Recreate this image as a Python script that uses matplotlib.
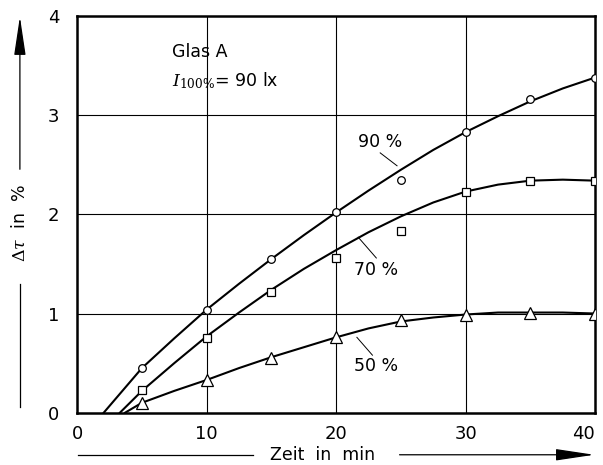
import numpy as np
from matplotlib import pyplot as plt

plt.rc('font', family='DejaVu Sans', size=12)
plt.rcParams['mathtext.fontset'] = 'dejavuserif'

# measured points
t_pts = [5, 10, 15, 20, 25, 30, 35, 40]
g90_pts = [0.45, 1.04, 1.55, 2.02, 2.35, 2.83, 3.16, 3.38]
g70_pts = [0.23, 0.75, 1.22, 1.56, 1.83, 2.23, 2.34, 2.34]
g50_pts = [0.10, 0.33, 0.55, 0.76, 0.93, 0.99, 1.01, 1.00]

# hand-drawn curves
t90_curve = [2.05, 5, 7.5, 10, 12.5, 15, 17.5, 20, 22.5, 25, 27.5, 30, 32.5, 35, 37.5, 40]
g90_curve = [0.0, 0.45, 0.75, 1.04, 1.30, 1.55, 1.79, 2.02, 2.24, 2.45, 2.65, 2.83, 2.99, 3.14, 3.27, 3.38]
t70_curve = [3.3, 5, 7.5, 10, 12.5, 15, 17.5, 20, 22.5, 25, 27.5, 30, 32.5, 35, 37.5, 40]
g70_curve = [0.0, 0.22, 0.50, 0.77, 1.01, 1.24, 1.45, 1.64, 1.82, 1.98, 2.12, 2.23, 2.30, 2.34, 2.35, 2.34]
t50_curve = [3.7, 5, 7.5, 10, 12.5, 15, 17.5, 20, 22.5, 25, 27.5, 30, 32.5, 35, 37.5, 40]
g50_curve = [0.0, 0.10, 0.22, 0.33, 0.45, 0.56, 0.66, 0.76, 0.85, 0.92, 0.96, 0.99, 1.01, 1.01, 1.01, 1.00]

x_ticks = [0, 10, 20, 30, 40]
y_ticks = [0, 1, 2, 3, 4]

fig = plt.figure(figsize=(6.03, 4.65), dpi=100)
ax = fig.add_axes([0.128, 0.1125, 0.859, 0.853])

for v in x_ticks[1:-1]:
    ax.axvline(v, color='black', lw=0.8, zorder=1)
for v in y_ticks[1:-1]:
    ax.axhline(v, color='black', lw=0.8, zorder=1)

ax.plot(t90_curve, g90_curve, color='black', lw=1.5, zorder=2)
ax.plot(t70_curve, g70_curve, color='black', lw=1.5, zorder=2)
ax.plot(t50_curve, g50_curve, color='black', lw=1.5, zorder=2)

ax.plot(t_pts, g90_pts, 'o', ms=5.5, mfc='white', mec='black', mew=0.9, zorder=3)
ax.plot(t_pts, g70_pts, 's', ms=5.5, mfc='white', mec='black', mew=0.9, zorder=3)
ax.plot(t_pts, g50_pts, '^', ms=8, mfc='white', mec='black', mew=0.9, zorder=3)

ax.set_xlim(0, 40)
ax.set_ylim(0, 4)
ax.set_xticks(x_ticks)
ax.set_yticks(y_ticks)
ax.tick_params(length=0, labelsize=13)
ax.tick_params(axis='x', pad=9)
ax.tick_params(axis='y', pad=13)
# last x label sits at the right edge, nudge it inward a little
ax.get_xticklabels()[-1].set_horizontalalignment('right')
ax.get_xticklabels()[-1].set_x(40.5)
for s in ax.spines.values():
    s.set_linewidth(1.8)

# curve labels with leader lines
ax.text(23.4, 2.64, '90 %', ha='center', va='bottom', fontsize=12.5)
ax.plot([23.4, 24.7], [2.62, 2.49], color='black', lw=0.7)
ax.text(23.1, 1.44, '70 %', ha='center', va='center', fontsize=12.5)
ax.plot([23.1, 21.7], [1.56, 1.77], color='black', lw=0.7)
ax.text(23.1, 0.47, '50 %', ha='center', va='center', fontsize=12.5)
ax.plot([22.8, 21.6], [0.58, 0.76], color='black', lw=0.7)

ax.text(7.3, 3.64, 'Glas A', ha='left', va='center', fontsize=12.5)
ax.text(7.3, 3.35, r'$I_{\mathrm{100\%}}$= 90 lx', ha='left', va='center', fontsize=12.5)

# axis labels with arrows, figure coordinates
arrow = dict(arrowstyle='-|>,head_length=2.0,head_width=0.3', color='black', lw=0.9)
fig.text(0.033, 0.52, r'$\Delta\tau$  in  %', rotation=90, ha='center', va='center', fontsize=12.5)
fig.add_artist(plt.Line2D([0.033, 0.033], [0.125, 0.39], color='black', lw=0.9))
ax.annotate('', xy=(0.033, 0.97), xytext=(0.033, 0.63), xycoords='figure fraction',
            arrowprops=arrow, annotation_clip=False)
fig.text(0.535, 0.022, 'Zeit  in  min', ha='center', va='center', fontsize=12.5)
fig.add_artist(plt.Line2D([0.129, 0.42], [0.022, 0.022], color='black', lw=0.9))
ax.annotate('', xy=(0.99, 0.022), xytext=(0.658, 0.022), xycoords='figure fraction',
            arrowprops=arrow, annotation_clip=False)

plt.savefig('out.png', dpi=100)
